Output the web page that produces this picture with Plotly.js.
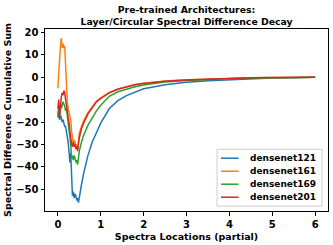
<!DOCTYPE html>
<html>
<head>
<meta charset="utf-8">
<script src="https://cdn.plot.ly/plotly-3.0.1.min.js"></script>
<style>html,body{margin:0;padding:0;background:#fff;}#chart{width:333px;height:245px;}</style>
</head>
<body>
<div id="chart"></div>
<script>
const seriesNames = ["densenet121", "densenet161", "densenet169", "densenet201"];
const seriesColors = ["#1f77b4", "#ff7f0e", "#2ca02c", "#d62728"];

const xLoc = [0, 0.02, 0.04, 0.06, 0.08, 0.10, 0.12, 0.14, 0.16, 0.18, 0.20, 0.22, 0.24, 0.26, 0.28, 0.30,
  0.32, 0.34, 0.36, 0.38, 0.40, 0.42, 0.44, 0.46, 0.48, 0.50,
  0.55, 0.6, 0.7, 0.8, 0.9, 1.0, 1.2, 1.4, 1.6, 1.8, 2.0, 2.5, 3.0, 3.5, 4.0, 4.5, 5.0, 5.5, 6.0];

const densenet121 = [-18, -15, -19, -17, -18, -20, -19, -21, -22, -22, -24, -26, -29, -33, -38, -34,
  -46, -53, -51, -54, -52, -53, -55, -54, -56, -53,
  -48, -43, -35, -29, -24.5, -20.5, -14, -10.5, -8.2, -6.6, -5.2, -3.4, -2.3, -1.6, -1.1, -0.7, -0.4, -0.2, 0];

const densenet161 = [-5, 3, 10, 14, 17.5, 13, 15, 13, 14, 5, -5, -11, -14, -16, -17, -19,
  -24, -28, -30, -28, -29, -31, -30, -32, -28, -25,
  -22, -19.5, -15.8, -13, -10.7, -9.2, -6.8, -5.2, -4.1, -3.3, -2.7, -1.7, -1.1, -0.75, -0.45, -0.28, -0.14, -0.05, 0];

const densenet169 = [-17, -13, -18, -12, -14, -12, -11, -12, -13, -15, -14, -17, -20, -22, -27, -30,
  -36, -35, -37, -35, -36, -38, -37, -39, -36, -33,
  -29, -26, -21.5, -18, -15, -12.5, -8.5, -6.5, -5.3, -4.3, -3.5, -2.2, -1.5, -1.0, -0.7, -0.45, -0.25, -0.1, 0];

const densenet201 = [-14, -10, -18, -12, -9, -7, -8, -6, -7, -10, -12, -15, -18, -20, -24, -28,
  -30, -31, -29, -31, -30, -32, -31, -33, -30, -27,
  -23, -20.5, -16.5, -13.5, -11, -9.5, -7, -5.4, -4.3, -3.4, -2.8, -1.8, -1.2, -0.8, -0.5, -0.3, -0.15, -0.05, 0];

const xTicks = [0, 1, 2, 3, 4, 5, 6];
const yTicks = [-50, -40, -30, -20, -10, 0, 10, 20];

const values = [densenet121, densenet161, densenet169, densenet201];
const traces = seriesNames.map((n, i) => ({
  type: "scatter", mode: "lines", name: n, x: xLoc, y: values[i],
  line: {color: seriesColors[i], width: 1.5}
}));

const boldFont = (s) => ({family: "DejaVu Sans", size: s, color: "#000", weight: "bold"});
const axisCommon = {
  showline: true, mirror: true, linecolor: "#000", linewidth: 1,
  ticks: "outside", ticklen: 3.5, tickwidth: 1, tickcolor: "#000",
  showgrid: false, zeroline: false,
  tickfont: boldFont(10)
};

// compact legend (matplotlib style) drawn in paper coordinates
const legBox = {x0: 0.608, x1: 0.979, y0: 0.027, y1: 0.339};
const legRowTop = 0.29, legRowStep = 0.0714;
const shapes = [{
  type: "rect", xref: "paper", yref: "paper",
  x0: legBox.x0, x1: legBox.x1, y0: legBox.y0, y1: legBox.y1,
  line: {color: "#cccccc", width: 1}, fillcolor: "rgba(255,255,255,0.85)", layer: "above"
}];
const annotations = [];
seriesNames.forEach((n, i) => {
  const yy = legRowTop - i * legRowStep;
  shapes.push({type: "line", xref: "paper", yref: "paper", x0: 0.622, x1: 0.684, y0: yy, y1: yy,
    line: {color: seriesColors[i], width: 1.5}, layer: "above"});
  annotations.push({xref: "paper", yref: "paper", x: 0.722, y: yy, xanchor: "left", yanchor: "middle",
    text: n, showarrow: false, font: boldFont(9), borderpad: 0});
});

const layout = {
  width: 333, height: 245,
  margin: {l: 45, r: 5, t: 29, b: 34},
  paper_bgcolor: "#fff", plot_bgcolor: "#fff",
  font: {family: "DejaVu Sans", color: "#000"},
  showlegend: false,
  title: {text: "Pre-trained Architectures:<br>Layer/Circular Spectral Difference Decay",
    font: boldFont(9.3),
    x: 0.5, xref: "paper", xanchor: "center", y: 0.946, yref: "container", yanchor: "top"},
  xaxis: Object.assign({}, axisCommon, {
    range: [-0.3, 6.3], tickvals: xTicks, ticktext: xTicks.map(String),
    title: {text: "Spectra Locations (partial)", standoff: 4, font: boldFont(9.5)}
  }),
  yaxis: Object.assign({}, axisCommon, {
    range: [-59.7, 21.5], tickvals: yTicks, ticktext: yTicks.map(v => v < 0 ? "\u2212" + Math.abs(v) : String(v)),
    title: {text: "Spectral Difference Cumulative Sum", standoff: 2, font: boldFont(9.5)}
  }),
  shapes: shapes,
  annotations: annotations
};

Plotly.newPlot("chart", traces, layout, {displayModeBar: false, staticPlot: true});
</script>
</body>
</html>
